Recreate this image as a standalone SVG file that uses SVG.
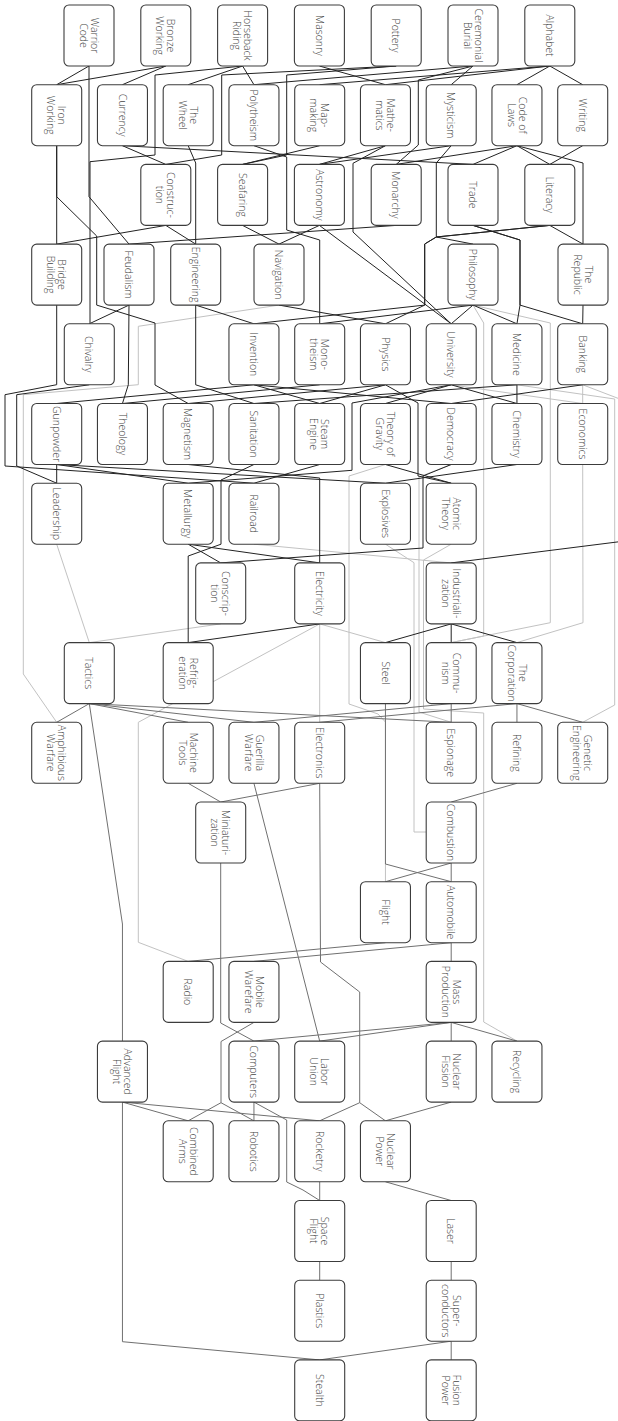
<svg xmlns="http://www.w3.org/2000/svg" width="618" height="1421" viewBox="0 0 618 1421">
<style>
.node rect{fill:#fff;stroke:#3c3c3c;stroke-width:1.1}
.node text{font-family:"Open Sans","Liberation Sans",sans-serif;font-size:10.5px;font-weight:300;fill:#444;text-anchor:middle}
#connectors polyline{fill:none;stroke-width:1}
.k polyline{stroke:#222}
.g polyline{stroke:#c2c2c2}
.m polyline{stroke:#707070}
</style>
<rect x="0" y="0" width="618" height="1421" fill="#fff"/>
<g id="connectors">
<g class="g">
<polyline points="279,305.1 138.3,326.3 138.3,384.7 23.3,394.7 23.3,674 56.7,722.3"/>
<polyline points="473,305.1 483.7,323 483.7,636 451.2,642.6"/>
<polyline points="473,305.1 550.3,323 550.3,622.7 451.2,642.6"/>
<polyline points="451.2,384.8 582.7,403.5"/>
<polyline points="582.7,384.8 582.7,403.5"/>
<polyline points="516.95,384.8 614.7,399 614.7,705 582.7,722.3"/>
<polyline points="582.7,464.5 583,622.7 516.95,642.6"/>
<polyline points="385.45,464.5 349,476 349,704 378,714 385.45,722 385.45,881.7"/>
<polyline points="451.2,464.5 419,477 419,712 451.2,722.3"/>
<polyline points="451.2,544.2 423.5,560 423.5,709 483.7,713 483.7,1022 516.95,1041.1"/>
<polyline points="385.45,544.2 414,562.7 414,832 426.2,832"/>
<polyline points="253.95,544.2 451.2,562.9"/>
<polyline points="220.7,623.9 89.3,642.6"/>
<polyline points="56.7,544.2 89.3,642.6"/>
<polyline points="319.7,623.9 138.3,722.3 138.3,942.3 188.2,961.4"/>
<polyline points="319.7,623.9 385.45,642.6"/>
<polyline points="319.7,623.9 319.7,722.3"/>
<polyline points="582.7,384.8 625,401"/>
</g>
<g class="k">
<polyline points="89,66 56.7,84.7"/>
<polyline points="165.8,66 56.7,84.7"/>
<polyline points="165.8,66 122.45,84.7"/>
<polyline points="242.6,66 188.2,84.7"/>
<polyline points="242.6,66 253.95,84.7"/>
<polyline points="473,66 253.95,84.7"/>
<polyline points="549.8,66 319.7,84.7"/>
<polyline points="319.4,66 385.45,84.7"/>
<polyline points="549.8,66 385.45,84.7"/>
<polyline points="473,66 451.2,84.7"/>
<polyline points="549.8,66 516.95,84.7"/>
<polyline points="549.8,66 582.7,84.7"/>
<polyline points="89,66 89,196.7 129,244.1"/>
<polyline points="242.6,66 155,75 155,155 90,161.7 90,323.8"/>
<polyline points="122.45,145.7 165.8,164.4"/>
<polyline points="396.2,66 221.7,75 221.7,155 165.8,164.4"/>
<polyline points="396.2,66 286.7,75 286.7,155 242.6,164.4"/>
<polyline points="319.7,145.7 242.6,164.4"/>
<polyline points="385.45,145.7 319.4,164.4"/>
<polyline points="451.2,145.7 319.4,164.4"/>
<polyline points="473,66 418.3,80 418.3,145 396.2,164.4"/>
<polyline points="516.95,145.7 396.2,164.4"/>
<polyline points="516.95,145.7 473,164.4"/>
<polyline points="122.45,145.7 473,164.4"/>
<polyline points="516.95,145.7 549.8,164.4"/>
<polyline points="582.7,145.7 549.8,164.4"/>
<polyline points="516.95,145.7 583,163 583,244.1"/>
<polyline points="188.2,145.7 195.7,163 195.7,244.1"/>
<polyline points="253.95,145.7 286.7,157 286.7,230 319.7,240 319.7,323.8"/>
<polyline points="451.2,145.7 436.3,163 436.3,237 473,244.1"/>
<polyline points="385.45,145.7 353,163.3 353,232 451.2,323.8"/>
<polyline points="56.7,145.7 56.7,244.1"/>
<polyline points="165.8,225.4 56.7,244.1"/>
<polyline points="56.7,145.7 56.7,196.7 96.7,236 96.7,305.1 155,323 155,385 188.2,403.5"/>
<polyline points="165.8,225.4 195.7,244.1"/>
<polyline points="242.6,225.4 279,244.1"/>
<polyline points="319.4,225.4 279,244.1"/>
<polyline points="396.2,225.4 129,244.1"/>
<polyline points="319.4,225.4 451.2,323.8"/>
<polyline points="549.8,225.4 583,244.1"/>
<polyline points="549.8,225.4 436.3,237 424.7,244 424.7,305.1 253.95,323.8"/>
<polyline points="549.8,225.4 436.3,237 424.7,244 424.7,305.1 385.45,323.8"/>
<polyline points="473,225.4 520,240 520,305.1 582.7,323.8"/>
<polyline points="473,225.4 520,240 520,305.1 516.95,323.8"/>
<polyline points="129,305.1 89.3,323.8"/>
<polyline points="129,305.1 128.3,384.8 122.45,403.5"/>
<polyline points="195.7,305.1 253.95,323.8"/>
<polyline points="195.7,305.1 195.7,384.8 253.95,403.5"/>
<polyline points="279,305.1 385.45,323.8"/>
<polyline points="473,305.1 451.2,323.8"/>
<polyline points="473,305.1 516.95,323.8"/>
<polyline points="473,305.1 319.7,323.8"/>
<polyline points="583,305.1 582.7,323.8"/>
<polyline points="319.7,384.8 122.45,403.5"/>
<polyline points="253.95,384.8 56.7,403.5"/>
<polyline points="253.95,384.8 319.7,403.5"/>
<polyline points="253.95,384.8 451.2,403.5"/>
<polyline points="385.45,384.8 319.7,403.5"/>
<polyline points="385.45,384.8 188.2,403.5"/>
<polyline points="385.45,384.8 418,403 418,476 451.2,483.2"/>
<polyline points="451.2,384.8 385.45,403.5"/>
<polyline points="451.2,384.8 516.95,403.5"/>
<polyline points="451.2,384.8 352,403 352,470.3 188.2,483.2"/>
<polyline points="516.95,384.8 516.95,403.5"/>
<polyline points="516.95,384.8 253.95,403.5"/>
<polyline points="582.7,384.8 451.2,403.5"/>
<polyline points="625,401 625,541 451.2,562.9"/>
<polyline points="89.3,384.8 16.7,394.7 16.7,466 56.7,483.2"/>
<polyline points="56.7,305.1 56.7,384.7 5,394.7 5,466 253.95,483.2"/>
<polyline points="56.7,464.5 56.7,483.2"/>
<polyline points="56.7,464.5 385.45,483.2"/>
<polyline points="56.7,464.5 188.2,483.2"/>
<polyline points="188.2,464.5 319.7,478 319.7,562.9"/>
<polyline points="253.95,464.5 221,480 221,544.2 188.2,556 188.2,642.6"/>
<polyline points="319.7,464.5 253.95,483.2"/>
<polyline points="385.45,464.5 451.2,483.2"/>
<polyline points="516.95,464.5 385.45,483.2"/>
<polyline points="451.2,464.5 423,476 423,548 220.7,562.9"/>
<polyline points="188.2,544.2 220.7,562.9"/>
<polyline points="188.2,544.2 319.7,562.9"/>
<polyline points="319.7,623.9 188.2,642.6"/>
<polyline points="451.2,623.9 385.45,642.6"/>
<polyline points="451.2,623.9 451.2,642.6"/>
<polyline points="451.2,623.9 516.95,642.6"/>
</g>
<g class="m">
<polyline points="89.3,703.6 56.7,722.3"/>
<polyline points="89.3,703.6 122.45,924 122.45,1041.1"/>
<polyline points="89.3,703.6 188.2,722.3"/>
<polyline points="89.3,703.6 253.95,722.3"/>
<polyline points="89.3,703.6 451.2,722.3"/>
<polyline points="451.2,703.6 451.2,722.3"/>
<polyline points="451.2,703.6 253.95,722.3"/>
<polyline points="516.95,703.6 516.95,722.3"/>
<polyline points="516.95,703.6 582.7,722.3"/>
<polyline points="516.95,703.6 319.7,722.3"/>
<polyline points="385.45,703.6 385.45,864 451.2,881.7"/>
<polyline points="188.2,783.3 220.7,802"/>
<polyline points="319.7,783.3 220.7,802"/>
<polyline points="516.95,783.3 451.2,802"/>
<polyline points="253.95,783.3 319.7,1041.1"/>
<polyline points="319.7,783.3 320.5,962 359.7,992 359.7,1102.7 385.45,1120.8"/>
<polyline points="359.7,1102.7 319.7,1120.8"/>
<polyline points="451.2,863 385.45,881.7"/>
<polyline points="451.2,863 451.2,881.7"/>
<polyline points="385.45,942.7 188.2,961.4"/>
<polyline points="451.2,942.7 253.95,961.4"/>
<polyline points="451.2,942.7 451.2,961.4"/>
<polyline points="220.7,863 220.7,1023 253.95,1041.1"/>
<polyline points="253.95,1022.4 221,1041.5 221,1102.7 188.2,1120.8"/>
<polyline points="221,1102.7 253.95,1120.8"/>
<polyline points="451.2,1022.4 253.95,1041.1"/>
<polyline points="451.2,1022.4 319.7,1041.1"/>
<polyline points="451.2,1022.4 451.2,1041.1"/>
<polyline points="451.2,1022.4 516.95,1041.1"/>
<polyline points="122.45,1102.1 188.2,1120.8"/>
<polyline points="122.45,1102.1 319.7,1120.8"/>
<polyline points="122.45,1102.1 122.45,1341.7 319.7,1359.9"/>
<polyline points="253.95,1102.1 253.95,1120.8"/>
<polyline points="253.95,1102.1 286.7,1120 286.7,1182 303,1190 319.7,1200.5"/>
<polyline points="451.2,1102.1 385.45,1120.8"/>
<polyline points="319.7,1181.8 319.7,1200.5"/>
<polyline points="385.45,1181.8 451.2,1200.5"/>
<polyline points="451.2,1261.5 451.2,1280.2"/>
<polyline points="319.7,1261.5 319.7,1280.2"/>
<polyline points="451.2,1341.2 319.7,1359.9"/>
<polyline points="451.2,1341.2 451.2,1359.9"/>
</g>
</g>
<g id="nodes">
<g class="node" id="warrior-code"><rect x="64" y="5" width="50" height="61" rx="5"/><text transform="translate(89,35.5) rotate(90)"><tspan x="0" y="-1.7">Warrior</tspan><tspan x="0" y="9.3">Code</tspan></text></g>
<g class="node" id="bronze-working"><rect x="140.8" y="5" width="50" height="61" rx="5"/><text transform="translate(165.8,35.5) rotate(90)"><tspan x="0" y="-1.7">Bronze</tspan><tspan x="0" y="9.3">Working</tspan></text></g>
<g class="node" id="horseback-riding"><rect x="217.6" y="5" width="50" height="61" rx="5"/><text transform="translate(242.6,35.5) rotate(90)"><tspan x="0" y="-1.7">Horseback</tspan><tspan x="0" y="9.3">Riding</tspan></text></g>
<g class="node" id="masonry"><rect x="294.4" y="5" width="50" height="61" rx="5"/><text transform="translate(319.4,35.5) rotate(90)" y="3.8">Masonry</text></g>
<g class="node" id="pottery"><rect x="371.2" y="5" width="50" height="61" rx="5"/><text transform="translate(396.2,35.5) rotate(90)" y="3.8">Pottery</text></g>
<g class="node" id="ceremonial-burial"><rect x="448" y="5" width="50" height="61" rx="5"/><text transform="translate(473,35.5) rotate(90)"><tspan x="0" y="-1.7">Ceremonial</tspan><tspan x="0" y="9.3">Burial</tspan></text></g>
<g class="node" id="alphabet"><rect x="524.8" y="5" width="50" height="61" rx="5"/><text transform="translate(549.8,35.5) rotate(90)" y="3.8">Alphabet</text></g>

<g class="node" id="iron-working"><rect x="31.7" y="84.7" width="50" height="61" rx="5"/><text transform="translate(56.7,115.2) rotate(90)"><tspan x="0" y="-1.7">Iron</tspan><tspan x="0" y="9.3">Working</tspan></text></g>
<g class="node" id="currency"><rect x="97.45" y="84.7" width="50" height="61" rx="5"/><text transform="translate(122.45,115.2) rotate(90)" y="3.8">Currency</text></g>
<g class="node" id="the-wheel"><rect x="163.2" y="84.7" width="50" height="61" rx="5"/><text transform="translate(188.2,115.2) rotate(90)"><tspan x="0" y="-1.7">The</tspan><tspan x="0" y="9.3">Wheel</tspan></text></g>
<g class="node" id="polytheism"><rect x="228.95" y="84.7" width="50" height="61" rx="5"/><text transform="translate(253.95,115.2) rotate(90)" y="3.8">Polytheism</text></g>
<g class="node" id="map-making"><rect x="294.7" y="84.7" width="50" height="61" rx="5"/><text transform="translate(319.7,115.2) rotate(90)"><tspan x="0" y="-1.7">Map-</tspan><tspan x="0" y="9.3">making</tspan></text></g>
<g class="node" id="mathematics"><rect x="360.45" y="84.7" width="50" height="61" rx="5"/><text transform="translate(385.45,115.2) rotate(90)"><tspan x="0" y="-1.7">Mathe-</tspan><tspan x="0" y="9.3">matics</tspan></text></g>
<g class="node" id="mysticism"><rect x="426.2" y="84.7" width="50" height="61" rx="5"/><text transform="translate(451.2,115.2) rotate(90)" y="3.8">Mysticism</text></g>
<g class="node" id="code-of-laws"><rect x="491.95" y="84.7" width="50" height="61" rx="5"/><text transform="translate(516.95,115.2) rotate(90)"><tspan x="0" y="-1.7">Code of</tspan><tspan x="0" y="9.3">Laws</tspan></text></g>
<g class="node" id="writing"><rect x="557.7" y="84.7" width="50" height="61" rx="5"/><text transform="translate(582.7,115.2) rotate(90)" y="3.8">Writing</text></g>

<g class="node" id="construction"><rect x="140.8" y="164.4" width="50" height="61" rx="5"/><text transform="translate(165.8,194.9) rotate(90)"><tspan x="0" y="-1.7">Construc-</tspan><tspan x="0" y="9.3">tion</tspan></text></g>
<g class="node" id="seafaring"><rect x="217.6" y="164.4" width="50" height="61" rx="5"/><text transform="translate(242.6,194.9) rotate(90)" y="3.8">Seafaring</text></g>
<g class="node" id="astronomy"><rect x="294.4" y="164.4" width="50" height="61" rx="5"/><text transform="translate(319.4,194.9) rotate(90)" y="3.8">Astronomy</text></g>
<g class="node" id="monarchy"><rect x="371.2" y="164.4" width="50" height="61" rx="5"/><text transform="translate(396.2,194.9) rotate(90)" y="3.8">Monarchy</text></g>
<g class="node" id="trade"><rect x="448" y="164.4" width="50" height="61" rx="5"/><text transform="translate(473,194.9) rotate(90)" y="3.8">Trade</text></g>
<g class="node" id="literacy"><rect x="524.8" y="164.4" width="50" height="61" rx="5"/><text transform="translate(549.8,194.9) rotate(90)" y="3.8">Literacy</text></g>

<g class="node" id="bridge-building"><rect x="31.7" y="244.1" width="50" height="61" rx="5"/><text transform="translate(56.7,274.6) rotate(90)"><tspan x="0" y="-1.7">Bridge</tspan><tspan x="0" y="9.3">Building</tspan></text></g>
<g class="node" id="feudalism"><rect x="104" y="244.1" width="50" height="61" rx="5"/><text transform="translate(129,274.6) rotate(90)" y="3.8">Feudalism</text></g>
<g class="node" id="engineering"><rect x="170.7" y="244.1" width="50" height="61" rx="5"/><text transform="translate(195.7,274.6) rotate(90)" y="3.8">Engineering</text></g>
<g class="node" id="navigation"><rect x="254" y="244.1" width="50" height="61" rx="5"/><text transform="translate(279,274.6) rotate(90)" y="3.8">Navigation</text></g>
<g class="node" id="philosophy"><rect x="448" y="244.1" width="50" height="61" rx="5"/><text transform="translate(473,274.6) rotate(90)" y="3.8">Philosophy</text></g>
<g class="node" id="the-republic"><rect x="558" y="244.1" width="50" height="61" rx="5"/><text transform="translate(583,274.6) rotate(90)"><tspan x="0" y="-1.7">The</tspan><tspan x="0" y="9.3">Republic</tspan></text></g>

<g class="node" id="chivalry"><rect x="64.3" y="323.8" width="50" height="61" rx="5"/><text transform="translate(89.3,354.3) rotate(90)" y="3.8">Chivalry</text></g>
<g class="node" id="invention"><rect x="228.95" y="323.8" width="50" height="61" rx="5"/><text transform="translate(253.95,354.3) rotate(90)" y="3.8">Invention</text></g>
<g class="node" id="monotheism"><rect x="294.7" y="323.8" width="50" height="61" rx="5"/><text transform="translate(319.7,354.3) rotate(90)"><tspan x="0" y="-1.7">Mono-</tspan><tspan x="0" y="9.3">theism</tspan></text></g>
<g class="node" id="physics"><rect x="360.45" y="323.8" width="50" height="61" rx="5"/><text transform="translate(385.45,354.3) rotate(90)" y="3.8">Physics</text></g>
<g class="node" id="university"><rect x="426.2" y="323.8" width="50" height="61" rx="5"/><text transform="translate(451.2,354.3) rotate(90)" y="3.8">University</text></g>
<g class="node" id="medicine"><rect x="491.95" y="323.8" width="50" height="61" rx="5"/><text transform="translate(516.95,354.3) rotate(90)" y="3.8">Medicine</text></g>
<g class="node" id="banking"><rect x="557.7" y="323.8" width="50" height="61" rx="5"/><text transform="translate(582.7,354.3) rotate(90)" y="3.8">Banking</text></g>

<g class="node" id="gunpowder"><rect x="31.7" y="403.5" width="50" height="61" rx="5"/><text transform="translate(56.7,434) rotate(90)" y="3.8">Gunpowder</text></g>
<g class="node" id="theology"><rect x="97.45" y="403.5" width="50" height="61" rx="5"/><text transform="translate(122.45,434) rotate(90)" y="3.8">Theology</text></g>
<g class="node" id="magnetism"><rect x="163.2" y="403.5" width="50" height="61" rx="5"/><text transform="translate(188.2,434) rotate(90)" y="3.8">Magnetism</text></g>
<g class="node" id="sanitation"><rect x="228.95" y="403.5" width="50" height="61" rx="5"/><text transform="translate(253.95,434) rotate(90)" y="3.8">Sanitation</text></g>
<g class="node" id="steam-engine"><rect x="294.7" y="403.5" width="50" height="61" rx="5"/><text transform="translate(319.7,434) rotate(90)"><tspan x="0" y="-1.7">Steam</tspan><tspan x="0" y="9.3">Engine</tspan></text></g>
<g class="node" id="theory-of-gravity"><rect x="360.45" y="403.5" width="50" height="61" rx="5"/><text transform="translate(385.45,434) rotate(90)"><tspan x="0" y="-1.7">Theory of</tspan><tspan x="0" y="9.3">Gravity</tspan></text></g>
<g class="node" id="democracy"><rect x="426.2" y="403.5" width="50" height="61" rx="5"/><text transform="translate(451.2,434) rotate(90)" y="3.8">Democracy</text></g>
<g class="node" id="chemistry"><rect x="491.95" y="403.5" width="50" height="61" rx="5"/><text transform="translate(516.95,434) rotate(90)" y="3.8">Chemistry</text></g>
<g class="node" id="economics"><rect x="557.7" y="403.5" width="50" height="61" rx="5"/><text transform="translate(582.7,434) rotate(90)" y="3.8">Economics</text></g>

<g class="node" id="leadership"><rect x="31.7" y="483.2" width="50" height="61" rx="5"/><text transform="translate(56.7,513.7) rotate(90)" y="3.8">Leadership</text></g>
<g class="node" id="metallurgy"><rect x="163.2" y="483.2" width="50" height="61" rx="5"/><text transform="translate(188.2,513.7) rotate(90)" y="3.8">Metallurgy</text></g>
<g class="node" id="railroad"><rect x="228.95" y="483.2" width="50" height="61" rx="5"/><text transform="translate(253.95,513.7) rotate(90)" y="3.8">Railroad</text></g>
<g class="node" id="explosives"><rect x="360.45" y="483.2" width="50" height="61" rx="5"/><text transform="translate(385.45,513.7) rotate(90)" y="3.8">Explosives</text></g>
<g class="node" id="atomic-theory"><rect x="426.2" y="483.2" width="50" height="61" rx="5"/><text transform="translate(451.2,513.7) rotate(90)"><tspan x="0" y="-1.7">Atomic</tspan><tspan x="0" y="9.3">Theory</tspan></text></g>

<g class="node" id="conscription"><rect x="195.7" y="562.9" width="50" height="61" rx="5"/><text transform="translate(220.7,593.4) rotate(90)"><tspan x="0" y="-1.7">Conscrip-</tspan><tspan x="0" y="9.3">tion</tspan></text></g>
<g class="node" id="electricity"><rect x="294.7" y="562.9" width="50" height="61" rx="5"/><text transform="translate(319.7,593.4) rotate(90)" y="3.8">Electricity</text></g>
<g class="node" id="industrialization"><rect x="426.2" y="562.9" width="50" height="61" rx="5"/><text transform="translate(451.2,593.4) rotate(90)"><tspan x="0" y="-1.7">Industriali-</tspan><tspan x="0" y="9.3">zation</tspan></text></g>

<g class="node" id="tactics"><rect x="64.3" y="642.6" width="50" height="61" rx="5"/><text transform="translate(89.3,673.1) rotate(90)" y="3.8">Tactics</text></g>
<g class="node" id="refrigeration"><rect x="163.2" y="642.6" width="50" height="61" rx="5"/><text transform="translate(188.2,673.1) rotate(90)"><tspan x="0" y="-1.7">Refrig-</tspan><tspan x="0" y="9.3">eration</tspan></text></g>
<g class="node" id="steel"><rect x="360.45" y="642.6" width="50" height="61" rx="5"/><text transform="translate(385.45,673.1) rotate(90)" y="3.8">Steel</text></g>
<g class="node" id="communism"><rect x="426.2" y="642.6" width="50" height="61" rx="5"/><text transform="translate(451.2,673.1) rotate(90)"><tspan x="0" y="-1.7">Commu-</tspan><tspan x="0" y="9.3">nism</tspan></text></g>
<g class="node" id="the-corporation"><rect x="491.95" y="642.6" width="50" height="61" rx="5"/><text transform="translate(516.95,673.1) rotate(90)"><tspan x="0" y="-1.7">The</tspan><tspan x="0" y="9.3">Corporation</tspan></text></g>

<g class="node" id="amphibious-warfare"><rect x="31.7" y="722.3" width="50" height="61" rx="5"/><text transform="translate(56.7,752.8) rotate(90)"><tspan x="0" y="-1.7">Amphibious</tspan><tspan x="0" y="9.3">Warfare</tspan></text></g>
<g class="node" id="machine-tools"><rect x="163.2" y="722.3" width="50" height="61" rx="5"/><text transform="translate(188.2,752.8) rotate(90)"><tspan x="0" y="-1.7">Machine</tspan><tspan x="0" y="9.3">Tools</tspan></text></g>
<g class="node" id="guerilla-warfare"><rect x="228.95" y="722.3" width="50" height="61" rx="5"/><text transform="translate(253.95,752.8) rotate(90)"><tspan x="0" y="-1.7">Guerilla</tspan><tspan x="0" y="9.3">Warfare</tspan></text></g>
<g class="node" id="electronics"><rect x="294.7" y="722.3" width="50" height="61" rx="5"/><text transform="translate(319.7,752.8) rotate(90)" y="3.8">Electronics</text></g>
<g class="node" id="espionage"><rect x="426.2" y="722.3" width="50" height="61" rx="5"/><text transform="translate(451.2,752.8) rotate(90)" y="3.8">Espionage</text></g>
<g class="node" id="refining"><rect x="491.95" y="722.3" width="50" height="61" rx="5"/><text transform="translate(516.95,752.8) rotate(90)" y="3.8">Refining</text></g>
<g class="node" id="genetic-engineering"><rect x="557.7" y="722.3" width="50" height="61" rx="5"/><text transform="translate(582.7,752.8) rotate(90)"><tspan x="0" y="-1.7">Genetic</tspan><tspan x="0" y="9.3">Engineering</tspan></text></g>

<g class="node" id="miniaturization"><rect x="195.7" y="802" width="50" height="61" rx="5"/><text transform="translate(220.7,832.5) rotate(90)"><tspan x="0" y="-1.7">Miniaturi-</tspan><tspan x="0" y="9.3">zation</tspan></text></g>
<g class="node" id="combustion"><rect x="426.2" y="802" width="50" height="61" rx="5"/><text transform="translate(451.2,832.5) rotate(90)" y="3.8">Combustion</text></g>

<g class="node" id="flight"><rect x="360.45" y="881.7" width="50" height="61" rx="5"/><text transform="translate(385.45,912.2) rotate(90)" y="3.8">Flight</text></g>
<g class="node" id="automobile"><rect x="426.2" y="881.7" width="50" height="61" rx="5"/><text transform="translate(451.2,912.2) rotate(90)" y="3.8">Automobile</text></g>

<g class="node" id="radio"><rect x="163.2" y="961.4" width="50" height="61" rx="5"/><text transform="translate(188.2,991.9) rotate(90)" y="3.8">Radio</text></g>
<g class="node" id="mobile-warfare"><rect x="228.95" y="961.4" width="50" height="61" rx="5"/><text transform="translate(253.95,991.9) rotate(90)"><tspan x="0" y="-1.7">Mobile</tspan><tspan x="0" y="9.3">Warefare</tspan></text></g>
<g class="node" id="mass-production"><rect x="426.2" y="961.4" width="50" height="61" rx="5"/><text transform="translate(451.2,991.9) rotate(90)"><tspan x="0" y="-1.7">Mass</tspan><tspan x="0" y="9.3">Production</tspan></text></g>

<g class="node" id="advanced-flight"><rect x="97.45" y="1041.1" width="50" height="61" rx="5"/><text transform="translate(122.45,1071.6) rotate(90)"><tspan x="0" y="-1.7">Advanced</tspan><tspan x="0" y="9.3">Flight</tspan></text></g>
<g class="node" id="computers"><rect x="228.95" y="1041.1" width="50" height="61" rx="5"/><text transform="translate(253.95,1071.6) rotate(90)" y="3.8">Computers</text></g>
<g class="node" id="labor-union"><rect x="294.7" y="1041.1" width="50" height="61" rx="5"/><text transform="translate(319.7,1071.6) rotate(90)"><tspan x="0" y="-1.7">Labor</tspan><tspan x="0" y="9.3">Union</tspan></text></g>
<g class="node" id="nuclear-fission"><rect x="426.2" y="1041.1" width="50" height="61" rx="5"/><text transform="translate(451.2,1071.6) rotate(90)"><tspan x="0" y="-1.7">Nuclear</tspan><tspan x="0" y="9.3">Fission</tspan></text></g>
<g class="node" id="recycling"><rect x="491.95" y="1041.1" width="50" height="61" rx="5"/><text transform="translate(516.95,1071.6) rotate(90)" y="3.8">Recycling</text></g>

<g class="node" id="combined-arms"><rect x="163.2" y="1120.8" width="50" height="61" rx="5"/><text transform="translate(188.2,1151.3) rotate(90)"><tspan x="0" y="-1.7">Combined</tspan><tspan x="0" y="9.3">Arms</tspan></text></g>
<g class="node" id="robotics"><rect x="228.95" y="1120.8" width="50" height="61" rx="5"/><text transform="translate(253.95,1151.3) rotate(90)" y="3.8">Robotics</text></g>
<g class="node" id="rocketry"><rect x="294.7" y="1120.8" width="50" height="61" rx="5"/><text transform="translate(319.7,1151.3) rotate(90)" y="3.8">Rocketry</text></g>
<g class="node" id="nuclear-power"><rect x="360.45" y="1120.8" width="50" height="61" rx="5"/><text transform="translate(385.45,1151.3) rotate(90)"><tspan x="0" y="-1.7">Nuclear</tspan><tspan x="0" y="9.3">Power</tspan></text></g>

<g class="node" id="space-flight"><rect x="294.7" y="1200.5" width="50" height="61" rx="5"/><text transform="translate(319.7,1231) rotate(90)"><tspan x="0" y="-1.7">Space</tspan><tspan x="0" y="9.3">Flight</tspan></text></g>
<g class="node" id="laser"><rect x="426.2" y="1200.5" width="50" height="61" rx="5"/><text transform="translate(451.2,1231) rotate(90)" y="3.8">Laser</text></g>

<g class="node" id="plastics"><rect x="294.7" y="1280.2" width="50" height="61" rx="5"/><text transform="translate(319.7,1310.7) rotate(90)" y="3.8">Plastics</text></g>
<g class="node" id="superconductors"><rect x="426.2" y="1280.2" width="50" height="61" rx="5"/><text transform="translate(451.2,1310.7) rotate(90)"><tspan x="0" y="-1.7">Super-</tspan><tspan x="0" y="9.3">conductors</tspan></text></g>

<g class="node" id="stealth"><rect x="294.7" y="1359.9" width="50" height="61" rx="5"/><text transform="translate(319.7,1390.4) rotate(90)" y="3.8">Stealth</text></g>
<g class="node" id="fusion-power"><rect x="426.2" y="1359.9" width="50" height="61" rx="5"/><text transform="translate(451.2,1390.4) rotate(90)"><tspan x="0" y="-1.7">Fusion</tspan><tspan x="0" y="9.3">Power</tspan></text></g>
</g>
</svg>
